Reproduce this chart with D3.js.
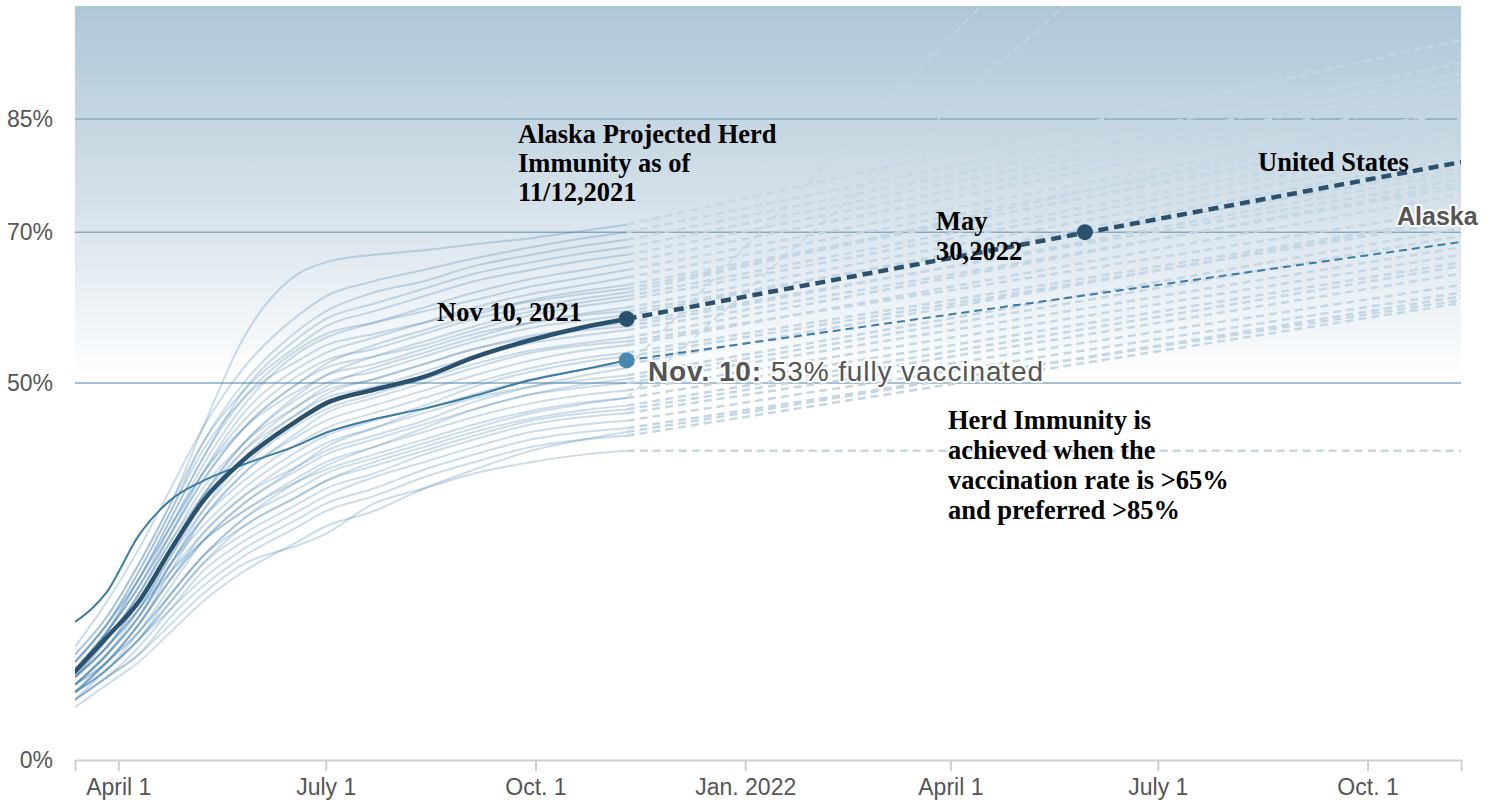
<!DOCTYPE html>
<html>
<head>
<meta charset="utf-8">
<script src="https://cdn.jsdelivr.net/npm/d3@7"></script>
<style>
  body { margin: 0; background: #fff; }
  svg { display: block; }
</style>
</head>
<body>
<div id="chart"></div>
<script>
var width = 1495,
    height = 800;

// sample dates of the observed part (fully vaccinated share, %)
var dates = ["2021-03-13", "2021-03-27", "2021-04-10", "2021-04-24", "2021-05-08", "2021-05-26", "2021-06-19",
    "2021-07-01", "2021-07-22", "2021-08-13", "2021-09-04", "2021-09-29", "2021-10-22", "2021-11-10"];
var projEndDate = "2022-11-11";

var usValues = [11.7, 16.3, 21.0, 27.9, 34.3, 39.8, 45.1, 47.3, 49.1, 50.8, 53.4, 55.7, 57.4, 58.5];
var usProjEnd = 79.3;
var usMilestoneDate = "2022-05-30",
    usMilestoneValue = 70;

var akValues = [18.3, 22.3, 29.8, 34.5, 37.0, 39.2, 41.8, 43.4, 45.2, 46.6, 48.3, 50.4, 51.8, 53.0];
var akProjEnd = 68.7;

// other states
var stateValues = [
    [14, 19, 26, 34, 44, 56, 64.5, 66, 67, 67.6, 68.4, 69.2, 70.2, 71],
    [15, 21, 28, 36, 44, 52, 59, 61.5, 63.5, 65, 66.5, 68, 69.2, 70],
    [13, 18, 25, 33, 42, 50, 57, 59.5, 62, 63.5, 65.5, 67, 68.2, 69],
    [12, 17, 24, 32, 40, 49, 56, 58.5, 60.5, 62.5, 64.5, 66, 67.2, 68],
    [14, 19, 26, 34, 42, 49, 55, 57.5, 59.5, 61.5, 63.5, 65, 66.2, 67],
    [12, 17, 23, 31, 39, 47, 54, 56, 58, 60, 62, 63.8, 65, 66],
    [13, 18, 24, 32, 40, 48, 54.5, 56.5, 58, 59.5, 61, 62.8, 64, 65],
    [11, 16, 22, 30, 38, 46, 52, 54, 56, 58, 60, 61.8, 63, 64],
    [12, 17, 23, 30, 37, 44, 50, 52.5, 55, 57, 59, 61, 62.2, 63],
    [13, 18, 24, 31, 38, 45, 51, 53, 54.5, 56.5, 58.5, 60, 61.2, 62],
    [11, 15, 21, 28, 35, 42, 48.5, 51, 53.5, 55.5, 57.5, 59.5, 60.7, 61.5],
    [12, 17, 23, 30, 37, 44, 50, 52, 53.5, 55, 57, 59, 60.2, 61],
    [10, 14, 20, 27, 34, 41, 47, 49.5, 52, 54, 56, 58, 59.2, 60],
    [11, 15, 21, 28, 35, 42, 48, 50, 51.5, 53.5, 55.5, 57.3, 58.3, 59],
    [12, 16, 22, 29, 36, 42, 47, 49, 50.5, 52.5, 54.5, 56.3, 57.3, 58],
    [10, 14, 19, 26, 33, 40, 46, 48, 49.5, 51.5, 53.5, 55.3, 56.3, 57],
    [11, 15, 20, 27, 33, 39, 44.5, 46.5, 48.5, 50.5, 52.5, 54.3, 55.3, 56],
    [9, 13, 18, 25, 32, 38, 43, 45, 47, 49, 51, 53, 54.3, 55],
    [10, 14, 19, 26, 32, 37, 42, 44, 46, 48, 50, 52, 53.3, 54],
    [11, 15, 20, 26, 31, 36, 41, 43, 45, 47, 49.5, 51.5, 52.8, 53.5],
    [9, 13, 18, 24, 30, 35, 39, 41, 43, 45, 47.5, 49.5, 51, 52],
    [10, 14, 19, 25, 30, 35, 40, 42, 44, 46, 48, 49.5, 50.4, 51],
    [9, 12, 17, 23, 29, 34, 38.5, 40.5, 42.5, 44.5, 46.5, 48.5, 49.4, 50],
    [10, 13, 18, 24, 29, 33, 37.5, 39.5, 41.5, 43.5, 45.5, 47.3, 48.4, 49],
    [8, 12, 16, 22, 27, 32, 36, 38, 40, 42, 44, 46, 47.2, 48],
    [11, 15, 20, 25, 29, 33, 37, 38.5, 40.5, 42.5, 44.5, 46.3, 47.4, 48],
    [9, 12, 16, 21, 26, 31, 35, 37, 39.5, 41.5, 43.5, 45.3, 46.4, 47],
    [9, 12, 16, 21, 26, 30, 34, 36, 38, 40.5, 42.5, 44.5, 45.5, 46],
    [8, 11, 15, 20, 25, 29, 33, 35, 37.5, 39.5, 41.5, 43.5, 44.5, 45],
    [9, 12, 16, 20, 24, 28, 32, 34, 36, 38.5, 40.5, 42.5, 43.5, 44],
    [8, 11, 14, 19, 23, 27, 31, 33, 35, 37.5, 39.5, 41.5, 42.5, 43],
    [8, 11, 14, 18, 22, 26, 28.5, 30, 34, 36, 38, 39.5, 40.5, 41],
    [13, 18, 25, 33, 41, 48, 53, 55, 56.5, 58, 59.5, 60.8, 61.8, 62.5],
    [12, 17, 24, 31, 38, 44, 49, 51, 52.5, 54.5, 56.5, 58, 59, 59.5],
    [11, 16, 22, 29, 35, 41, 46, 48.5, 50.5, 52.5, 54.5, 56, 57, 57.5],
    [10, 14, 19, 26, 32, 38, 43.5, 46, 48, 50, 52, 54, 55, 55.5],
    [9, 13, 18, 24, 29, 34, 39, 41.5, 44, 46.5, 48.5, 50.5, 51.8, 52.5],
    [10, 13, 17, 22, 27, 32, 37, 39, 41.5, 44, 46.5, 48.5, 49.8, 50.5],
    [9, 13, 17, 22, 27, 31, 35, 37, 39, 41, 43, 45, 46, 46.5],
    [7, 10, 13, 17, 21, 25, 29, 31, 33, 36, 38.5, 41, 42.5, 43.5]
];
var stateProjEnd = [95.5, 92.4, 91, 90, 89, 88, 86, 85, 84, 86.5, 83, 82, 81, 80, 77, 76,
    76.5, 75, 72, 71.5, 165, 70.5, 68, 67, 147, 66, 65.5, 63, 62, 61, 60.6, 41,
    84.5, 78.5, 78, 73, 72, 69.5, 64.5, 61.5];

var gridValues = [50, 70, 85];
var yLabelValues = [0, 50, 70, 85];
var xTickDates = ["2021-04-01", "2021-07-01", "2021-10-01", "2022-01-01", "2022-04-01", "2022-07-01", "2022-10-01"];
var xTickLabels = ["April 1", "July 1", "Oct. 1", "Jan. 2022", "April 1", "July 1", "Oct. 1"];

var parse = d3.utcParse("%Y-%m-%d");

var usColor = "#2a526e",
    akColor = "#3a7ca5",
    gridColor = "#86aac1",
    serif = "'Liberation Serif', 'Times New Roman', serif",
    sans = "'Liberation Sans', Arial, Helvetica, sans-serif";

var x = d3.scaleUtc()
    .domain([parse("2021-03-13"), parse(projEndDate)])
    .range([75, 1461]);

var y = d3.scaleLinear()
    .domain([0, 100])
    .range([760, 6]);

var svg = d3.select("#chart")
    .append("svg")
    .attr("width", width)
    .attr("height", height);

var defs = svg.append("defs");

var bgGradient = defs.append("linearGradient")
    .attr("id", "bgGradient")
    .attr("x1", 0).attr("y1", 0)
    .attr("x2", 0).attr("y2", 1);
bgGradient.append("stop").attr("offset", "0%").style("stop-color", "#aec7d7");
bgGradient.append("stop").attr("offset", "25%").style("stop-color", "#d3e0e9");
bgGradient.append("stop").attr("offset", "50%").style("stop-color", "#ffffff");
bgGradient.append("stop").attr("offset", "100%").style("stop-color", "#ffffff");

defs.append("clipPath")
    .attr("id", "plotClip")
    .append("rect")
    .attr("x", x.range()[0])
    .attr("y", y(100))
    .attr("width", x.range()[1] - x.range()[0])
    .attr("height", y(0) - y(100));

svg.append("rect")
    .attr("x", x.range()[0])
    .attr("y", y(100))
    .attr("width", x.range()[1] - x.range()[0])
    .attr("height", y(0) - y(100))
    .style("fill", "url(#bgGradient)");

// grid lines
svg.append("g")
    .selectAll("line")
    .data(gridValues)
    .join("line")
    .attr("x1", x.range()[0])
    .attr("x2", x.range()[1])
    .attr("y1", d => y(d))
    .attr("y2", d => y(d))
    .style("stroke", gridColor)
    .style("stroke-width", "1.5px");

// y labels
svg.append("g")
    .selectAll("text")
    .data(yLabelValues)
    .join("text")
    .attr("x", 53)
    .attr("y", d => y(d))
    .attr("dy", 8)
    .attr("text-anchor", "end")
    .text(d => d + "%")
    .style("font-family", sans)
    .style("font-size", "23px")
    .style("fill", "#555");

var dateObjs = dates.map(parse);

var solidLine = d3.line()
    .x(d => x(d[0]))
    .y(d => y(d[1]))
    .curve(d3.curveMonotoneX);

var straightLine = d3.line()
    .x(d => x(d[0]))
    .y(d => y(d[1]));

function series(vals) {
    return vals.map((v, i) => [dateObjs[i], v]);
}

function projection(lastVal, endVal) {
    return [[dateObjs[dateObjs.length - 1], lastVal], [parse(projEndDate), endVal]];
}

var plot = svg.append("g").attr("clip-path", "url(#plotClip)");

// state projections (dashed)
plot.append("g")
    .selectAll("path")
    .data(stateValues)
    .join("path")
    .attr("d", (d, i) => straightLine(projection(d[d.length - 1], stateProjEnd[i])))
    .style("fill", "none")
    .style("stroke", "#c4d7e4")
    .style("stroke-width", (d, i) => stateProjEnd[i] > 100 ? "1.5px" : "2.5px")
    .style("stroke-dasharray", "8,5");

// state observed lines
plot.append("g")
    .selectAll("path")
    .data(stateValues)
    .join("path")
    .attr("d", d => solidLine(series(d)))
    .style("fill", "none")
    .style("stroke", "rgba(70, 130, 180, 0.28)")
    .style("stroke-width", "2px");

// x axis
var axis = d3.axisBottom(x)
    .tickValues(xTickDates.map(parse))
    .tickFormat((d, i) => xTickLabels[i])
    .tickSizeInner(11)
    .tickSizeOuter(11)
    .tickPadding(8);

var gAxis = svg.append("g")
    .attr("transform", "translate(0," + y(0) + ")")
    .call(axis);

gAxis.select(".domain")
    .style("stroke", "#cfcfcf")
    .style("stroke-width", "2px");

gAxis.selectAll(".tick line")
    .style("stroke", "#cfcfcf")
    .style("stroke-width", "2px");

gAxis.selectAll(".tick text")
    .style("font-family", sans)
    .style("font-size", "23px")
    .style("fill", "#555");

// Alaska
plot.append("path")
    .attr("d", straightLine(projection(akValues[akValues.length - 1], akProjEnd)))
    .style("fill", "none")
    .style("stroke", akColor)
    .style("stroke-width", "2px")
    .style("stroke-dasharray", "8,5");

plot.append("path")
    .attr("d", solidLine(series(akValues)))
    .style("fill", "none")
    .style("stroke", akColor)
    .style("stroke-width", "2px");

// United States
plot.append("path")
    .attr("d", straightLine(projection(usValues[usValues.length - 1], usProjEnd)))
    .style("fill", "none")
    .style("stroke", usColor)
    .style("stroke-width", "4.5px")
    .style("stroke-dasharray", "10,6");

plot.append("path")
    .attr("d", solidLine(series(usValues)))
    .style("fill", "none")
    .style("stroke", usColor)
    .style("stroke-width", "4.5px")
    .style("stroke-linecap", "round");

var lastDate = dateObjs[dateObjs.length - 1];

svg.append("circle")
    .attr("cx", x(lastDate))
    .attr("cy", y(akValues[akValues.length - 1]))
    .attr("r", 8)
    .style("fill", "#4a88b2");

svg.append("circle")
    .attr("cx", x(lastDate))
    .attr("cy", y(usValues[usValues.length - 1]))
    .attr("r", 8)
    .style("fill", usColor);

svg.append("circle")
    .attr("cx", x(parse(usMilestoneDate)))
    .attr("cy", y(usMilestoneValue))
    .attr("r", 8)
    .style("fill", usColor);

// annotations
function serifBlock(lines, x0, y0, lh) {
    var t = svg.append("text")
        .attr("x", x0)
        .attr("y", y0)
        .style("font-family", serif)
        .style("font-weight", "bold")
        .style("font-size", "26.5px")
        .style("fill", "#000");
    lines.forEach(function (s, i) {
        t.append("tspan")
            .attr("x", x0)
            .attr("y", y0 + i * lh)
            .text(s);
    });
    return t;
}

serifBlock(["Alaska Projected Herd", "Immunity as of", "11/12,2021"], 518, 143, 29);
serifBlock(["Nov 10, 2021"], 437, 321, 0);
serifBlock(["May", "30,2022"], 936, 230, 30);
serifBlock(["United States"], 1258, 171, 0);
serifBlock(["Herd Immunity is", "achieved when the", "vaccination rate is >65%", "and preferred >85%"], 948, 429, 30);

var nov = svg.append("text")
    .attr("x", 648)
    .attr("y", 381)
    .style("font-family", sans)
    .style("font-size", "28px")
    .style("letter-spacing", "0.9px")
    .style("fill", "#555")
    .style("paint-order", "stroke")
    .style("stroke", "#fff")
    .style("stroke-width", "4px")
    .style("stroke-linejoin", "round");
nov.append("tspan").style("font-weight", "bold").text("Nov. 10:");
nov.append("tspan").text(" 53% fully vaccinated");

svg.append("text")
    .attr("x", 1397)
    .attr("y", 225)
    .text("Alaska")
    .style("font-family", sans)
    .style("font-weight", "bold")
    .style("font-size", "25px")
    .style("fill", "#555")
    .style("paint-order", "stroke")
    .style("stroke", "#fff")
    .style("stroke-width", "4px")
    .style("stroke-linejoin", "round");
</script>
</body>
</html>
